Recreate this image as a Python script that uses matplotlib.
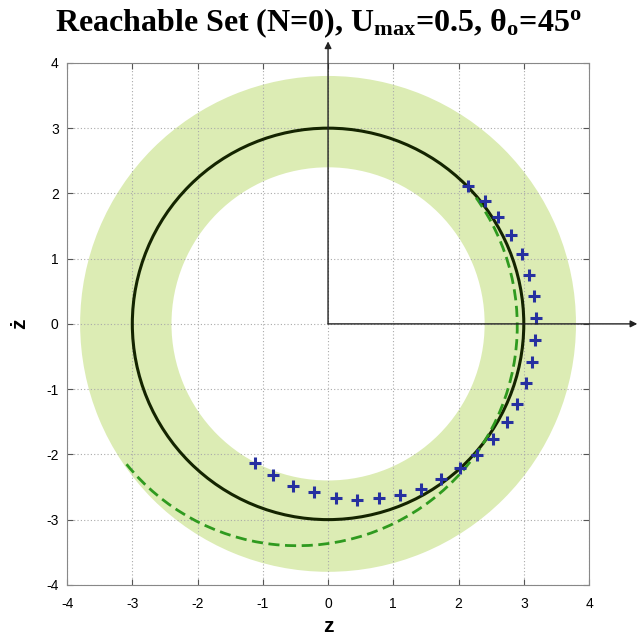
import matplotlib.pyplot as plt
import numpy as np
from matplotlib.patches import Wedge, Circle, Arc

plt.rcParams["font.family"] = ["Liberation Sans", "DejaVu Sans"]
plt.rcParams["axes.unicode_minus"] = False
plt.rcParams["mathtext.fontset"] = "custom"
plt.rcParams["mathtext.rm"] = "Liberation Serif:bold"
plt.rcParams["mathtext.it"] = "Liberation Serif:bold"

# reachable band (annulus)
band_inner = 2.4
band_outer = 3.8

# nominal circle
circle_r = 3.0

# dashed trajectory arc: center, radius, start/end angle (deg)
arc_center = (-0.47, -0.03)
arc_r = 3.37
arc_theta1 = -141
arc_theta2 = 36

# sampled points
pts_x = [-1.12, -0.85, -0.53, -0.21, 0.12, 0.44, 0.78, 1.11, 1.43, 1.73, 2.02, 2.29,
         2.53, 2.74, 2.90, 3.03, 3.12, 3.17, 3.19, 3.15, 3.08, 2.97, 2.81, 2.61, 2.40, 2.14]
pts_y = [-2.13, -2.32, -2.48, -2.58, -2.67, -2.70, -2.67, -2.62, -2.53, -2.38, -2.21, -2.01,
         -1.77, -1.51, -1.23, -0.90, -0.58, -0.25, 0.09, 0.43, 0.75, 1.07, 1.36, 1.64, 1.89, 2.11]

ticks = np.arange(-4, 5)

fig = plt.figure(figsize=(6.37, 6.42), dpi=100)
ax = fig.add_axes([0.105, 0.089, 0.82, 0.813])

ax.add_patch(Wedge((0, 0), band_outer, 0, 360, width=band_outer - band_inner,
                   facecolor="#dcecb4", edgecolor="none", zorder=1))
ax.add_patch(Circle((0, 0), circle_r, fill=False, edgecolor="#142400", lw=2.2, zorder=3))
ax.add_patch(Arc(arc_center, 2 * arc_r, 2 * arc_r, theta1=arc_theta1, theta2=arc_theta2,
                 edgecolor="#2f9a1f", lw=2.0, linestyle=(0, (4, 2)), zorder=3))
ax.plot(pts_x, pts_y, "+", color="#2630a0", markersize=8, markeredgewidth=2.2, zorder=4)

# coordinate arrows from the origin
arrow_kw = dict(arrowstyle="-|>", lw=1.0, color="#222222", mutation_scale=10,
                shrinkA=0, shrinkB=0)
ax.annotate("", xy=(0, 4.33), xytext=(0, 0), arrowprops=arrow_kw, annotation_clip=False, zorder=5)
ax.annotate("", xy=(4.74, 0), xytext=(0, 0), arrowprops=arrow_kw, annotation_clip=False, zorder=5)

ax.set_xlim(-4, 4)
ax.set_ylim(-4, 4)
ax.set_aspect("equal", adjustable="box")
ax.set_xticks(ticks)
ax.set_yticks(ticks)
ax.tick_params(direction="in", top=True, right=True, labelsize=10, length=4, color="#555555")
ax.tick_params(axis="x", pad=9)
ax.tick_params(axis="y", pad=6)
ax.grid(True, linestyle=(0, (1, 2)), color="#aaaaaa", lw=0.8)
for s in ax.spines.values():
    s.set_color("#888888")

ax.set_xlabel("z", fontsize=15, fontweight="bold", labelpad=4)
ax.set_ylabel("ż", fontsize=15, fontweight="bold", labelpad=12)
fig.suptitle(r"Reachable Set (N=0), U$_{\mathregular{max}}$=0.5, $\mathregular{\theta_o}$=45$^{\mathregular{o}}$",
             fontsize=23, fontweight="bold", family="Liberation Serif", x=0.5, y=0.99)

plt.savefig("out.png", dpi=100)
